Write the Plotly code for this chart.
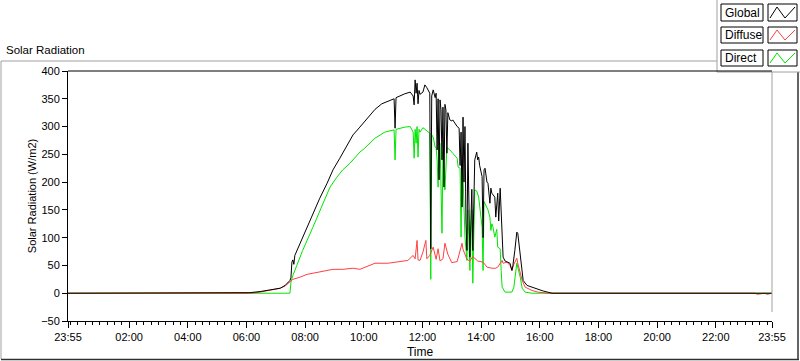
import plotly.graph_objects as go

# ---------------- data ----------------
global_t = ["23:55", "05:57", "06:07", "06:28", "06:48", "07:09", "07:19", "07:29", "07:31", "07:33",
            "07:35", "07:37", "07:39", "07:50", "08:04", "08:16", "08:30", "08:45", "08:57", "09:11",
            "09:26", "09:38", "09:52", "10:09", "10:23", "10:37", "10:50", "11:00", "11:02", "11:04",
            "11:06", "11:24", "11:35", "11:41", "11:43",
            "11:45", "11:47", "11:49", "11:51", "11:53", "11:55", "12:01", "12:05", "12:09", "12:13",
            "12:15", "12:17", "12:19", "12:22", "12:26", "12:28", "12:30", "12:32", "12:34", "12:36",
            "12:38", "12:40", "12:42", "12:44", "12:46", "12:48", "12:50", "12:52", "12:56", "13:00",
            "13:02", "13:11", "13:15", "13:17", "13:19", "13:21", "13:23", "13:25", "13:27", "13:29",
            "13:31", "13:33", "13:35", "13:37", "13:41", "13:43", "13:47", "13:51", "13:53", "13:55",
            "13:57", "13:59", "14:02", "14:04", "14:06", "14:08", "14:12", "14:14", "14:18", "14:20",
            "14:22", "14:28", "14:30", "14:34", "14:36", "14:39", "14:43", "14:45", "14:49", "14:53",
            "14:59", "15:03", "15:05", "15:09", "15:13", "15:15", "15:20", "15:24", "15:26", "15:34",
            "15:50", "16:07", "16:25", "23:55"]
global_v = [0, 0, 1, 3, 6, 9, 14, 23, 28, 56,
            60, 52, 68, 90, 119, 144, 171, 198, 222, 243,
            267, 285, 299, 317, 331, 341, 346, 350, 350, 297,
            352, 359, 362, 355, 339,
            384, 360, 378, 341, 365, 358, 362, 375, 370, 362,
            360, 80, 355, 366, 352, 360, 258, 350, 204, 348,
            330, 240, 335, 191, 340, 330, 252, 325, 312, 310,
            312, 300, 297, 230, 290, 155, 317, 200, 300, 130,
            77, 270, 150, 65, 187, 77, 240, 254, 240, 245,
            230, 222, 210, 100, 222, 225, 200, 198, 162, 189,
            180, 173, 137, 180, 130, 189, 101, 65, 58, 56,
            54, 41, 50, 77, 110, 108, 70, 36, 23, 14,
            9, 4, 0, 0]

diffuse_t = ["23:55", "06:07", "06:28", "06:48", "07:09", "07:19", "07:29", "07:35", "07:50", "08:04",
             "08:16", "08:36", "08:57", "09:17", "09:38", "09:52", "10:02", "10:23", "10:50", "11:10",
             "11:30", "11:41", "11:45",
             "11:49", "11:51", "11:55", "12:01", "12:07", "12:09", "12:15", "12:22", "12:28", "12:32",
             "12:36", "12:42", "12:46", "12:52", "13:00", "13:11", "13:21", "13:23", "13:31", "13:37",
             "13:43", "13:53", "14:04", "14:12", "14:22", "14:30", "14:34", "14:43", "14:45", "14:53",
             "14:59", "15:03", "15:07", "15:13", "15:15", "15:24", "15:30", "15:44", "15:56", "16:17",
             "23:20", "23:25", "23:40", "23:45", "23:55"]
diffuse_v = [0, 0, 2, 5, 9, 13, 20, 25, 29, 34,
             36, 40, 43, 43, 45, 43, 47, 54, 54, 56,
             59, 68, 62,
             95, 60, 59, 74, 95, 62, 68, 83, 61, 80,
             58, 62, 90, 70, 55, 57, 90, 79, 61, 58,
             66, 58, 56, 47, 45, 45, 47, 59, 54, 56,
             50, 41, 52, 63, 54, 23, 11, 5, 2, 0,
             0, -2, 0, -2, 0]

direct_t = ["23:55", "07:29", "07:31", "07:35", "07:43", "07:55", "08:16", "08:36", "08:51", "09:05",
            "09:17", "09:32", "09:52", "10:02", "10:23", "10:43", "10:58", "11:02", "11:04", "11:06",
            "11:24", "11:35", "11:41", "11:43", "11:45",
            "11:47", "11:49", "11:51", "11:53", "11:55", "12:01", "12:05", "12:11", "12:15", "12:17",
            "12:19", "12:22", "12:26", "12:28", "12:30", "12:32", "12:34", "12:36", "12:40", "12:42",
            "12:46", "12:50", "12:56", "13:02", "13:11", "13:13", "13:17", "13:19", "13:21", "13:23",
            "13:27", "13:31", "13:33", "13:37", "13:41", "13:43", "13:47", "13:51", "13:55", "14:02",
            "14:04", "14:06", "14:12", "14:14", "14:18", "14:20", "14:22", "14:24", "14:28", "14:32",
            "14:34", "14:39", "14:41", "14:43", "14:49", "15:03", "15:07", "15:11", "15:13", "15:20",
            "15:24", "15:30", "15:44", "23:55"]
direct_v = [0, 0, 20, 32, 50, 77, 119, 162, 191, 209,
            222, 234, 254, 261, 279, 290, 294, 294, 240, 295,
            299, 300, 290, 243, 295,
            270, 300, 245, 295, 290, 298, 295, 290, 288, 25,
            285, 281, 263, 262, 240, 191, 270, 270, 108, 255,
            186, 262, 258, 252, 243, 227, 225, 101, 230, 210,
            101, 59, 150, 41, 150, 18, 186, 184, 173, 119,
            41, 165, 155, 150, 137, 113, 125, 120, 101, 115,
            83, 80, 41, 11, 2, 2, 11, 41, 54, 29,
            9, 2, 0, 0]

series_names = ["Global", "Diffuse", "Direct"]
series_colors = ["#000000", "#ff4040", "#00e600"]

x_tick_labels = ["23:55", "02:00", "04:00", "06:00", "08:00", "10:00", "12:00",
                 "14:00", "16:00", "18:00", "20:00", "22:00", "23:55"]
y_tick_vals = [-50, 0, 50, 100, 150, 200, 250, 300, 350, 400]

DAY0 = "2024-01-01 "
DAY1 = "2024-01-02 "


def to_dt(times):
    # first sample is 23:55 of the previous day, the rest belong to the plotted day
    return [(DAY0 if i == 0 else DAY1) + t for i, t in enumerate(times)]


tick_dts = to_dt(x_tick_labels)

# ---------------- figure ----------------
W, H = 800, 361
L, R, T, B = 68, 28, 71, 40
PW, PH = W - L - R, H - T - B

FONT = "Liberation Sans"

fig = go.Figure()
# draw order: green, red, black (black on top as in reference)
for name, col, tt, vv in [("Direct", series_colors[2], direct_t, direct_v),
                          ("Diffuse", series_colors[1], diffuse_t, diffuse_v),
                          ("Global", series_colors[0], global_t, global_v)]:
    fig.add_trace(go.Scatter(x=to_dt(tt), y=vv, mode="lines", name=name,
                             line=dict(color=col, width=1), showlegend=False,
                             hoverinfo="x+y+name"))


def px(x):
    return (x - L) / PW


def py(y):
    return (H - B - y) / PH


shapes = []
# outer frame
shapes.append(dict(type="line", xref="paper", yref="paper", x0=px(1), x1=px(1), y0=py(61), y1=py(359),
                   line=dict(color="#a0a0a0", width=1)))
shapes.append(dict(type="line", xref="paper", yref="paper", x0=px(1), x1=px(717), y0=py(61), y1=py(61),
                   line=dict(color="#a0a0a0", width=1)))
shapes.append(dict(type="line", xref="paper", yref="paper", x0=px(1), x1=px(799), y0=py(359.5), y1=py(359.5),
                   line=dict(color="#303030", width=1.5)))
shapes.append(dict(type="line", xref="paper", yref="paper", x0=px(798), x1=px(798), y0=py(72), y1=py(359),
                   line=dict(color="#303030", width=1.5)))
# plot right edge (gray)
shapes.append(dict(type="line", xref="paper", yref="paper", x0=px(772), x1=px(772), y0=py(62), y1=py(312),
                   line=dict(color="#a0a0a0", width=1)))
# legend panel
shapes.append(dict(type="rect", xref="paper", yref="paper", x0=px(717), x1=px(801), y0=py(72), y1=py(-1),
                   fillcolor="white", line=dict(color="#a0a0a0", width=1)))

legend_rows = [(4, 21), (27, 43), (50, 66)]
annotations = []
for (y0, y1), name, col in zip(legend_rows, series_names, series_colors):
    shapes.append(dict(type="rect", xref="paper", yref="paper", x0=px(721), x1=px(763), y0=py(y1), y1=py(y0),
                       fillcolor="white", line=dict(color="black", width=1)))
    shapes.append(dict(type="rect", xref="paper", yref="paper", x0=px(768), x1=px(797), y0=py(y1), y1=py(y0),
                       fillcolor="white", line=dict(color="black", width=1)))
    zig = "M {} {} L {} {} L {} {} L {} {}".format(
        px(770), py(y1 - 3), px(777), py(y0 + 3), px(785), py(y1 - 3), px(795), py(y0 + 3))
    shapes.append(dict(type="path", xref="paper", yref="paper", path=zig,
                       line=dict(color=col, width=1)))
    annotations.append(dict(text=name, xref="paper", yref="paper", x=px(723), y=py((y0 + y1) / 2),
                            xanchor="left", yanchor="middle", showarrow=False,
                            font=dict(family=FONT, size=12, color="black")))

annotations.append(dict(text="Solar Radiation", xref="paper", yref="paper", x=px(4), y=py(50),
                        xanchor="left", yanchor="middle", showarrow=False,
                        font=dict(family=FONT, size=11.5, color="black")))

fig.update_layout(
    width=W, height=H,
    margin=dict(l=L, r=R, t=T, b=B, pad=0, autoexpand=False),
    paper_bgcolor="white", plot_bgcolor="white",
    font=dict(family=FONT, size=11, color="black"),
    shapes=shapes, annotations=annotations,
    showlegend=False,
)

fig.update_xaxes(
    type="date", automargin=False,
    range=[tick_dts[0], tick_dts[-1]],
    tickvals=tick_dts, ticktext=x_tick_labels,
    ticks="outside", ticklen=6, tickcolor="black", tickwidth=1,
    minor=dict(ticks="outside", ticklen=3, tickcolor="black", tickwidth=1,
               dtick=15 * 60 * 1000, tick0=DAY1 + "00:00", showgrid=False),
    showline=True, linecolor="black", linewidth=1, mirror=False,
    showgrid=False, zeroline=False,
    tickfont=dict(family=FONT, size=11, color="black"),
    title=dict(text="Time", standoff=5, font=dict(family=FONT, size=12, color="black")),
)
fig.update_yaxes(
    automargin=False,
    range=[-50, 400],
    tickvals=y_tick_vals,
    ticks="outside", ticklen=5, tickcolor="black", tickwidth=1,
    showline=True, linecolor="black", linewidth=1,
    showgrid=False, zeroline=False,
    tickfont=dict(family=FONT, size=11, color="black"),
    title=dict(text="Solar Radiation (W/m2)", standoff=2, font=dict(family=FONT, size=11, color="black")),
)
# top black border of plot area
fig.add_shape(type="line", xref="paper", yref="paper", x0=0, x1=px(772), y0=1, y1=1,
              line=dict(color="black", width=1))

fig.write_html("out.html", config={"displayModeBar": False},
               post_script="document.body.style.margin='0px';document.body.style.overflow='hidden';")
